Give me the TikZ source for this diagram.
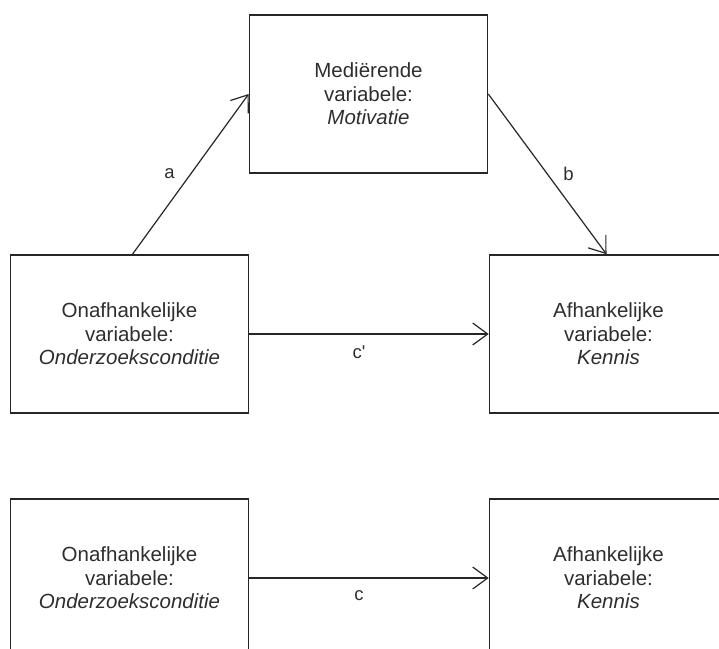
\documentclass[tikz,border=0pt]{standalone}
\usepackage{fontspec}
\setmainfont{Liberation Sans}
\usetikzlibrary{arrows.meta,calc}
\begin{document}
\begin{tikzpicture}[x=1pt,y=-1pt,
  box/.style={draw=black!85, line width=1.6pt, minimum width=238pt, minimum height=158pt,
    align=center, inner sep=0pt, font=\fontsize{20.5}{23.6}\selectfont, text=black!82},
  conn/.style={draw=black!85, line width=1.2pt,
    -{Straight Barb[length=15pt,width=22pt,line width=1.2pt]}},
  lab/.style={font=\fontsize{18.5}{20}\selectfont, text=black!82, inner sep=0pt}]
\useasboundingbox (0,0) rectangle (719,648);
\clip (0,0) rectangle (719,648);
\node[box] (med) at (368.5,94) {Mediërende\\variabele:\\\textit{Motivatie}};
\node[box] (ind1) at (129.5,334) {Onafhankelijke\\variabele:\\\textit{Onderzoeksconditie}};
\node[box] (dep1) at (608.5,334) {Afhankelijke\\variabele:\\\textit{Kennis}};
\node[box] (ind2) at (129.5,578) {Onafhankelijke\\variabele:\\\textit{Onderzoeksconditie}};
\node[box] (dep2) at (608.5,578) {Afhankelijke\\variabele:\\\textit{Kennis}};
\draw[conn] ($(ind1.north)+(3,0)$) -- node[lab, midway, xshift=-21pt] {a} (med.west);
\draw[conn] (med.east) -- node[lab, midway, xshift=21pt] {b} ($(dep1.north)+(-2,0)$);
\draw[conn] (ind1.east) -- node[lab, midway, xshift=-10pt, yshift=-18pt] {c\textquotesingle} (dep1.west);
\draw[conn] (ind2.east) -- node[lab, midway, xshift=-10pt, yshift=-18pt] {c} (dep2.west);
\end{tikzpicture}
\end{document}
